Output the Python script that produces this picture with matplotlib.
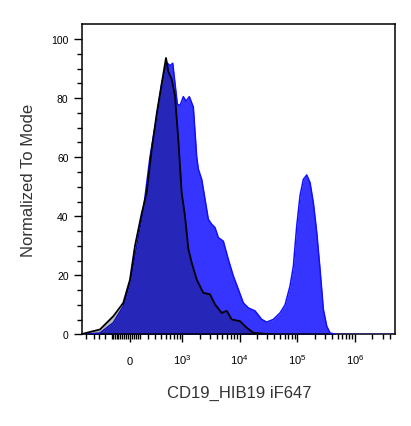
import numpy as np
import matplotlib
matplotlib.use("Agg")
import matplotlib.pyplot as plt
from matplotlib.ticker import FixedLocator, FixedFormatter

plt.rcParams['font.family'] = ['Liberation Sans', 'DejaVu Sans']
plt.rcParams['mathtext.default'] = 'regular'

# =================== data ===================
# stained sample (blue)
sample_x = [-904, -377, -179, -68, 0, 68, 139, 221, 322, 409, 513, 593, 665, 733,
            808, 904, 1036, 1159, 1324, 1556, 1786, 1904, 2182, 2493, 2845, 3260,
            3722, 4248, 5187, 6337, 7740, 9450, 11537, 14090, 18410, 24060, 29370,
            38220, 49970, 61020, 74500, 85020, 97400, 111130, 126800, 145200,
            165700, 189100, 216700, 247200, 282000, 323000, 368300, 481300, 4930000]
sample_y = [0, 0.5, 4, 9.6, 17.6, 30, 42, 60, 74, 85, 92, 91, 91.8, 85,
            78, 77.5, 80.5, 79, 80.5, 77, 60, 56, 52.5, 45.8, 39, 37.3,
            36.2, 32.8, 31.6, 25.4, 19.8, 15.3, 10.7, 9, 8, 5.1, 4.2,
            5.1, 7.3, 10, 16.4, 23, 36.7, 47, 52.5, 54,
            51.4, 44.6, 34.5, 22, 8.5, 2.8, 0.5, 0, 0]

# control (black)
control_x = [-904, -377, -179, -68, 0, 50, 121, 179, 245, 322, 409, 497, 551, 637,
             733, 842, 969, 1111, 1272, 1459, 1786, 2329, 3047, 3722, 4867, 5945,
             7262, 10113, 13218, 17205, 27450, 40750]
control_y = [0, 1.7, 6.2, 10.7, 18.6, 30, 41, 48, 62.7, 75, 85, 93.6, 89, 86.4,
             80.8, 66, 48, 40, 29, 24.3, 18.6, 14.1, 13.6, 10.2, 7.3, 8,
             5.1, 4.5, 2.3, 0.6, 0.2, 0]

x_major = [0, 1e3, 1e4, 1e5, 1e6]
x_major_labels = ['0', '$10^{3}$', '$10^{4}$', '$10^{5}$', '$10^{6}$']

# =================== biexponential-like scale ===================
COF = 250.0


def fwd(x):
    return np.arcsinh(np.asarray(x, dtype=float) / COF)


def inv(u):
    return COF * np.sinh(np.asarray(u, dtype=float))


fig = plt.figure(figsize=(4.11, 4.27), dpi=100)
ax = fig.add_axes([0.2007, 0.2143, 0.7611, 0.7265])
ax.set_xscale('function', functions=(fwd, inv))

ax.fill_between(sample_x, sample_y, 0, color='#3535ff', lw=0, zorder=2)
ax.plot(sample_x, sample_y, color='#1010ff', lw=1.1, zorder=3)
ax.fill_between(control_x, control_y, 0, color='black', alpha=0.28, lw=0, zorder=4)
ax.plot(control_x, control_y, color='black', lw=1.3, zorder=5)

ax.set_xlim(-815, 4.99e6)
ax.set_ylim(0, 105)

# ticks
minor_x = [-700, -500, -400, -300] + [v for v in range(-200, 100, 20) if v != 0]
minor_x += list(range(100, 1000, 100))
for dec in [1e3, 1e4, 1e5]:
    minor_x += [m * dec for m in range(2, 10)]
minor_x += [2e6, 3e6, 4e6]
ax.xaxis.set_major_locator(FixedLocator(x_major))
ax.xaxis.set_major_formatter(FixedFormatter(x_major_labels))
ax.xaxis.set_minor_locator(FixedLocator(minor_x))

ax.set_yticks(np.arange(0, 101, 20))
ax.set_yticks(np.arange(0, 101, 5), minor=True)

ax.tick_params(axis='both', which='major', direction='out', length=6, width=1,
               labelsize=7.5, colors='black')
ax.tick_params(axis='x', which='major', labelsize=8, pad=15)
ax.tick_params(axis='both', which='minor', direction='out', length=3.5, width=1)
ax.tick_params(axis='y', which='major', pad=4)

for t in ax.xaxis.get_major_ticks():
    t.label1.set_verticalalignment('baseline')

for s in ax.spines.values():
    s.set_linewidth(1.1)
    s.set_color('black')

ax.set_xlabel('CD19_HIB19 iF647', fontsize=12, color='#333333')
ax.set_ylabel('Normalized To Mode', fontsize=12, color='#333333')
ax.xaxis.set_label_coords(0.5, -0.162)
ax.yaxis.set_label_coords(-0.15, 0.5)

fig.savefig('out.png', dpi=100)
